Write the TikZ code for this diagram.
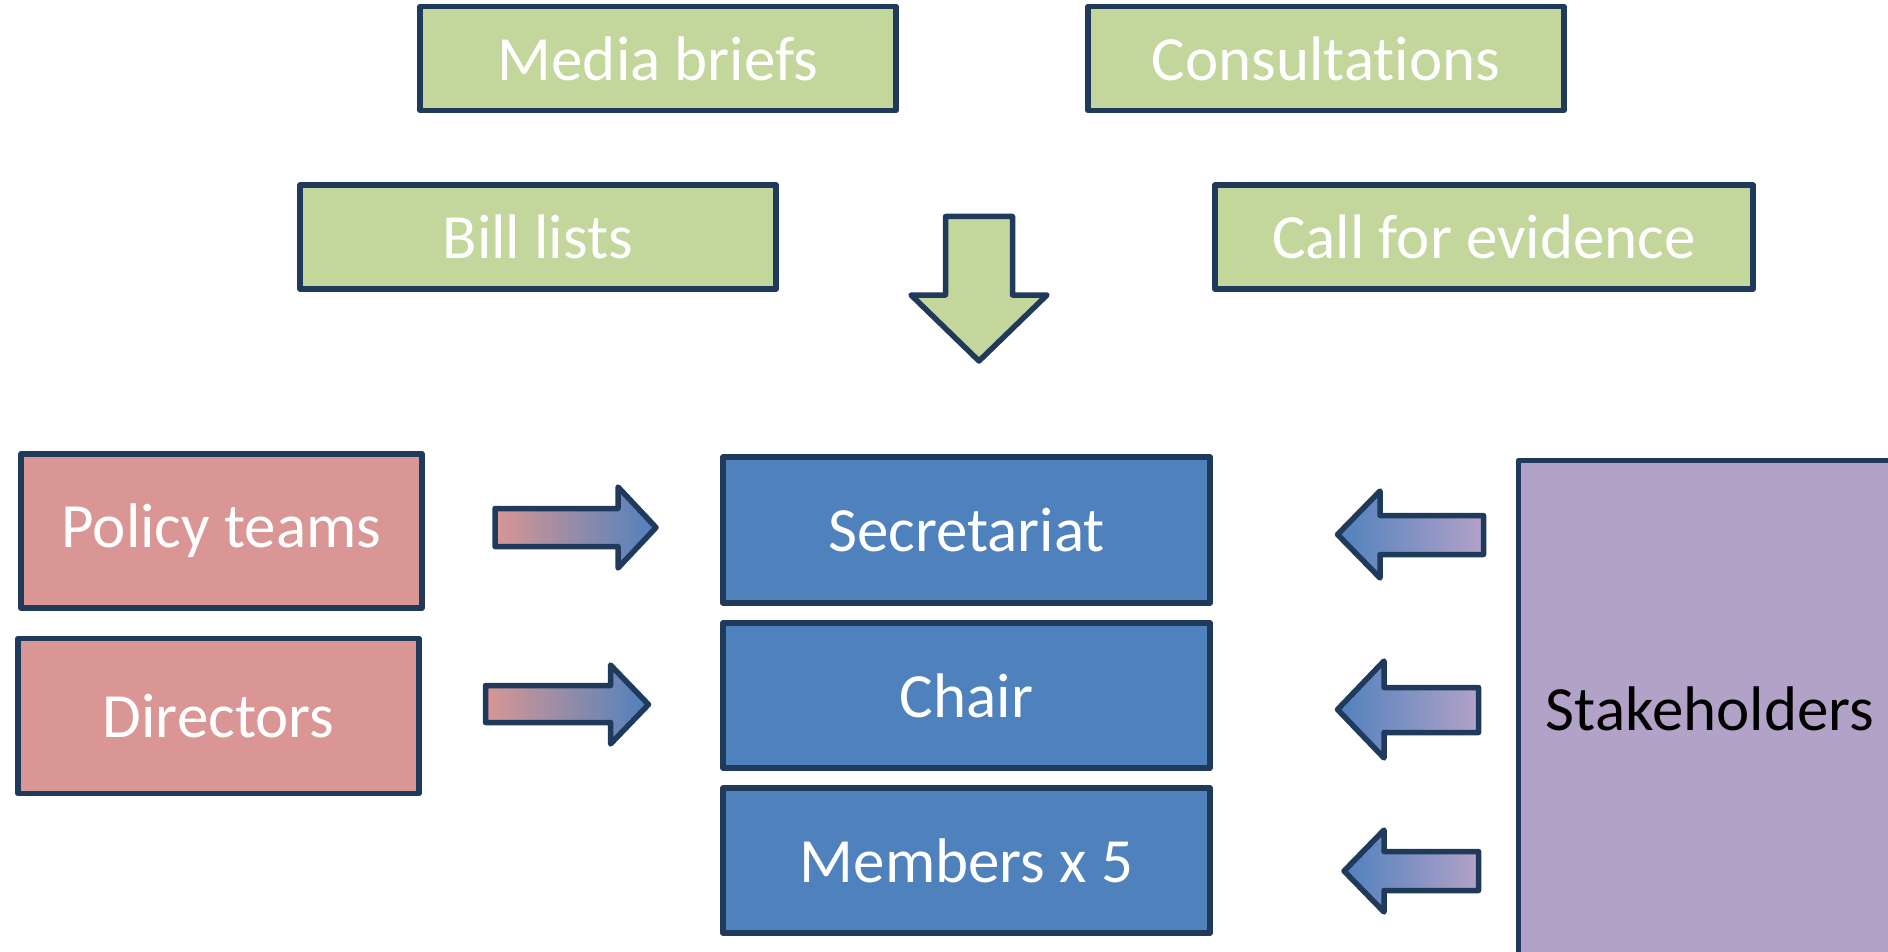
\documentclass[tikz,border=0pt]{standalone}
\usepackage{fontspec}
\setmainfont{Carlito}[Ligatures=NoCommon]
\definecolor{edge}{HTML}{1F3A5A}
\definecolor{leaf}{HTML}{C3D69B}
\definecolor{rose}{HTML}{D99694}
\definecolor{steel}{HTML}{4F81BD}
\definecolor{lilac}{HTML}{B3A2C7}
\begin{document}
\begin{tikzpicture}[x=0.5pt,y=-0.5pt,
  box/.style={draw=edge, line width=2.75pt, line join=round, text=white,
    font=\fontsize{31.5}{36}\selectfont, inner sep=0pt},
  sz/.style 2 args={minimum width=#1*0.5pt, minimum height=#2*0.5pt},
  source/.style={box, fill=leaf},
  team/.style={box, fill=rose},
  core/.style={box, fill=steel},
  outer/.style={box, fill=lilac, text=black},
  blockarrow/.style={draw=edge, line width=2.75pt, line join=round},
  inward/.style={blockarrow, left color=rose, right color=steel},
  feedback/.style={blockarrow, left color=steel, right color=lilac},
]
\useasboundingbox (0,0) rectangle (1888,952);
\clip (0,0) rectangle (1888,952);

% information sources
\node[source, sz={476}{104}] (media)    at (658,58.5)  {Media briefs};
\node[source, sz={476}{104}] (consult)  at (1326,58.5) {Consultations};
\node[source, sz={476}{104}] (bills)    at (538,237)   {Bill lists};
\node[source, sz={538}{104}] (evidence) at (1484,237)  {Call for evidence};

% down arrow feeding the committee
\path[blockarrow, fill=leaf]
  (945.5,216.5) -- (1012.5,216.5) -- (1012.5,295) -- (1047,295)
  -- (979,361) -- (911,295) -- (945.5,295) -- cycle;

% internal teams
\node[team, sz={401}{154}] (policy)    at (221.5,531) {Policy teams};
\node[team, sz={401}{155}] (directors) at (218.5,716) {Directors};

% committee
\node[core, sz={487}{146}] (secretariat) at (966.5,530)   {Secretariat};
\node[core, sz={487}{145}] (chair)       at (966.5,695.5) {Chair};
\node[core, sz={487}{145}] (members)     at (966.5,860.5) {Members x 5};

% stakeholders panel, running off the page
\node[outer, sz={383}{497}] (stakeholders) at (1710,709) {Stakeholders};

% arrows from the teams
\path[inward]
  (495,508.5) -- (618,508.5) -- (618,487) -- (656,527.5)
  -- (618,568) -- (618,546.5) -- (495,546.5) -- cycle;
\path[inward]
  (485.5,685.5) -- (610.5,685.5) -- (610.5,665) -- (648.5,704.5)
  -- (610.5,744) -- (610.5,722.5) -- (485.5,722.5) -- cycle;

% arrows from the stakeholders
\path[feedback]
  (1483.5,515.5) -- (1380,515.5) -- (1380,491) -- (1337.5,534.5)
  -- (1380,578) -- (1380,554.5) -- (1483.5,554.5) -- cycle;
\path[feedback]
  (1478.5,687.5) -- (1384,687.5) -- (1384,661) -- (1337.5,709.5)
  -- (1384,758) -- (1384,732.5) -- (1478.5,732.5) -- cycle;
\path[feedback]
  (1478.5,851.5) -- (1384,851.5) -- (1384,830) -- (1344,871)
  -- (1384,912) -- (1384,890.5) -- (1478.5,890.5) -- cycle;
\end{tikzpicture}
\end{document}
